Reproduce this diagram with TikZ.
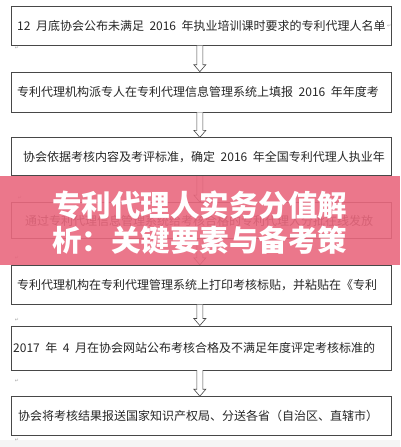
\documentclass[tikz,border=0pt]{standalone}
\usepackage{fontspec}
\usepackage{xcolor}
\usetikzlibrary{arrows,shapes,positioning,calc}
\newfontfamily\cjk{Noto Sans CJK SC}
\newfontfamily\symb{DejaVu Sans}
\definecolor{rosa}{RGB}{233,104,126}
\definecolor{borde}{RGB}{72,72,72}
\definecolor{texto}{RGB}{38,38,38}
\newcommand{\esp}{\hskip5.5pt}
% flecha hueca entre dos cajas
\newcommand{\flecha}[2]{%
  \draw[flechalinea] let \p1=(#1.south), \p2=(#2.north) in
    (\x1-4.5pt,\y1) -- (\x1-4.5pt,\y2+7pt) -- (\x1-7.5pt,\y2+7pt) -- (\x1-1.5pt,\y2)
    -- (\x1+4.5pt,\y2+7pt) -- (\x1+1.5pt,\y2+7pt) -- (\x1+1.5pt,\y1);}

\begin{document}
\begin{tikzpicture}[x=1pt,y=-1pt,
    caja/.style={draw=borde, line width=0.7pt, minimum width=380pt, inner sep=0pt},
    txt/.style={font=\cjk\fontsize{12}{14}\selectfont, text=texto, inner sep=0pt},
    marca/.style={font=\symb\fontsize{5}{5}\selectfont, text=gray!70, inner sep=0pt},
    flechalinea/.style={draw=borde, line width=0.6pt, fill=white},
    titulo/.style={font=\cjk\bfseries\fontsize{29.5}{30}\selectfont, text=white, inner sep=0pt}]
    \useasboundingbox (0,0) rectangle (400,447);
    \fill[gray!8] (0,440) rectangle (400,447);

    % Cajas del flujo
    \node[caja, minimum height=39pt, anchor=north west] (b1) at (11,6) {};
    \node[caja, minimum height=40pt, below=26pt of b1] (b2) {};
    \node[caja, minimum height=38pt, below=25pt of b2] (b3) {};
    \node[caja, minimum height=36pt, below=26pt of b3] (b4) {};
    \node[caja, minimum height=39pt, below=26pt of b4] (b5) {};
    \node[caja, minimum height=44pt, below=21pt of b5] (b6) {};
    \node[caja, minimum height=39pt, below=26pt of b6] (b7) {};

    % Textos
    \node[txt, right=6pt of b1.west] (t1) {12\esp 月底协会公布未满足\esp 2016\esp 年执业培训课时要求的专利代理人名单};
    \node[marca, right=1pt of t1] (m0) {↵};
    \node[txt, right=6pt of b2.west] (t2) {专利代理机构派专人在专利代理信息管理系统上填报\esp 2016\esp 年年度考};
    \node[txt, right=12pt of b3.west] (t3) {协会依据考核内容及考评标准，确定\esp 2016\esp 年全国专利代理人执业年};
    \node[txt, right=14pt of b4.west] (t4) {通过专利代理信息管理系统给考核合格的专利代理人分批在线发放};
    \node[txt, right=6pt of b5.west] (t5) {专利代理机构在专利代理管理系统上打印考核标贴，并粘贴在《专利};
    \node[txt, right=2pt of b6.west] (t6) {2017\esp 年\esp 4\esp 月在协会网站公布考核合格及不满足年度评定考核标准的};
    \node[txt, right=7pt of b7.west] (t7) {协会将考核结果报送国家知识产权局、分送各省（自治区、直辖市）};

    % Marcas de párrafo
    \node[marca] (m1) at (17,48) {↵};
    \node[marca] (m2) at (20,198) {↵};
    \node[marca] (m3) at (17,258) {↵};
    \node[marca] (m4) at (17,320) {↵};
    \node[marca] (m5) at (17,381) {↵};
    \node[marca] (m6) at (17,440) {↵};

    % Flechas
    \flecha{b1}{b2}
    \flecha{b2}{b3}
    \flecha{b3}{b4}
    \flecha{b4}{b5}
    \flecha{b5}{b6}
    \flecha{b6}{b7}

    % Banda del título
    \fill[rosa, opacity=0.9] (0,176) rectangle (400,265);
    \node[titulo, anchor=west] (tit1) at (52,205) {专利代理人实务分值解};
    \node[titulo, anchor=west] (tit2) at (52,240) {析：关键要素与备考策};
\end{tikzpicture}
\end{document}
